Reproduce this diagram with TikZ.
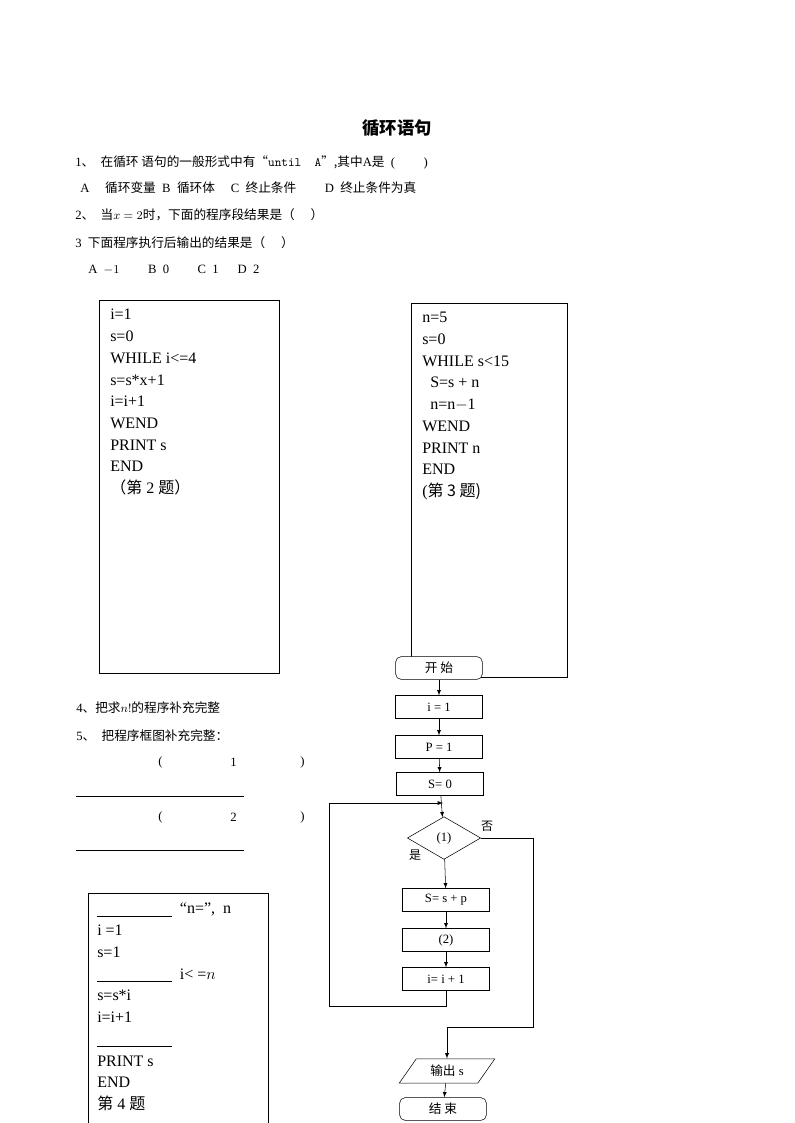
\documentclass[tikz,border=0pt]{standalone}
\usepackage{fontspec}
\setmainfont{Liberation Serif}
\newfontfamily\cjk{Noto Sans CJK SC}
\usetikzlibrary{positioning,shapes.geometric}
\begin{document}
\begin{tikzpicture}[x=0.75pt,y=-0.75pt,
txt/.style={anchor=west,inner sep=0pt,font=\fontsize{9.5}{11}\selectfont},
code/.style={anchor=north west,inner sep=0pt,align=left,font=\fontsize{12}{16.3}\selectfont},
box/.style={draw,minimum width=65pt,minimum height=17pt,inner sep=1pt,font=\fontsize{9.5}{11}\selectfont},
term/.style={box,rounded corners=4pt},
cond/.style={draw,diamond,aspect=1.7,minimum width=55pt,minimum height=32pt,inner sep=0pt,font=\fontsize{9.5}{11}\selectfont},
io/.style={draw,trapezium,trapezium left angle=55,trapezium right angle=125,minimum width=72pt,minimum height=16pt,inner sep=1pt,font=\fontsize{9.5}{11}\selectfont},
>=latex
]
\useasboundingbox (0,0) rectangle (794,1123);

% questions
\node[font=\cjk\bfseries\fontsize{13}{15}\selectfont] (title) at (397,128) {循环语句};
\node[txt] (q1) at (75,162) {1{\cjk 、} \ {\cjk 在循环 语句的一般形式中有“}\texttt{until\ \ A}{\cjk ”,其中}A{\cjk 是} \ ( \qquad )};
\node[txt] (q1a) at (80,188) {A \quad {\cjk 循环变量} \ B \ {\cjk 循环体} \quad C \ {\cjk 终止条件} \qquad D \ {\cjk 终止条件为真}};
\node[txt] (q2) at (75,215) {2{\cjk 、} \ {\cjk 当}$x=2${\cjk 时，下面的程序段结果是（} \quad {\cjk ）}};
\node[txt] (q3) at (75,243) {3 \ {\cjk 下面程序执行后输出的结果是（} \quad {\cjk ）}};
\node[txt] (q3a) at (88,270) {A \ $-1$ \qquad B \ 0 \qquad C \ 1 \quad\ D \ 2};

% program boxes
\draw (99,300) rectangle (279,673);
\node[code] (prog2) at (110,309) {i=1\\s=0\\WHILE i<=4\\s=s*x+1\\i=i+1\\WEND\\PRINT s\\END\\{\cjk （第} 2 {\cjk 题）}};
\draw (411,303) rectangle (567,677);
\node[code] (prog3) at (422,312) {n=5\\s=0\\WHILE s<15\\\ \ S=s + n\\\ \ n=n$-$1\\WEND\\PRINT n\\END\\(\cjk 第 3 题)};

% questions 4 and 5
\node[txt] (q4) at (76,708) {4{\cjk 、把求}$n!${\cjk 的程序补充完整}};
\node[txt] (q5) at (76,736) {5{\cjk 、} \ {\cjk 把程序框图补充完整：}};
\node[txt] (b1l) at (158,762) {(};
\node[txt] (b1n) at (230,762) {1};
\node[txt] (b1r) at (300,762) {)};
\draw (76,796) -- (244,796);
\node[txt] (b2l) at (158,817) {(};
\node[txt] (b2n) at (230,817) {2};
\node[txt] (b2r) at (300,817) {)};
\draw (76,850) -- (244,850);

\draw (88,1123) |- (268,893) -- (268,1123);
\node[code] (prog4) at (97,903) {\rule[-2pt]{56pt}{0.4pt} \ “n=”, \ n\\i =1\\s=1\\\rule[-2pt]{56pt}{0.4pt} \ i< =$n$\\s=s*i\\i=i+1\\\rule[-2pt]{56pt}{0.4pt}\\PRINT s\\END\\{\cjk 第} 4 {\cjk 题}};

% flowchart
\node[term,fill=white] (start) at (439,668) {\cjk 开 始};
\node[box] (i1) at (439,707) {i = 1};
\node[box] (p1) at (439,747) {P = 1};
\node[box] (s0) at (440,784) {S= 0};
\node[cond] (test) at (444,838) {(1)};
\node[box] (sum) at (446,900) {S= s + p};
\node[box] (fill2) at (446,940) {(2)};
\node[box] (inc) at (446,979) {i= i + 1};
\node[io] (out) at (447,1071) {{\cjk 输出} s};
\node[term] (stop) at (443,1109) {\cjk 结 束};
\node[font=\cjk\fontsize{9}{10}\selectfont] (no) at (487,826) {否};
\node[font=\cjk\fontsize{9}{10}\selectfont] (yes) at (415,855) {是};
\coordinate (merge) at (443,803);
\coordinate (join) at (447,1027);

\draw[->] (start) -- (i1);
\draw[->] (i1) -- (p1);
\draw[->] (p1) -- (s0);
\draw[->] (s0) -- (test);
\draw[->] (test) -- (sum);
\draw[->] (sum) -- (fill2);
\draw[->] (fill2) -- (inc);
\draw[->] (inc.south) -- ++(0,16) -| (329,803) -- (merge);
\draw (test.east) -- (533,838) |- (join);
\draw[->] (join) -- (out);
\draw[->] (out) -- (stop);
\end{tikzpicture}
\end{document}
